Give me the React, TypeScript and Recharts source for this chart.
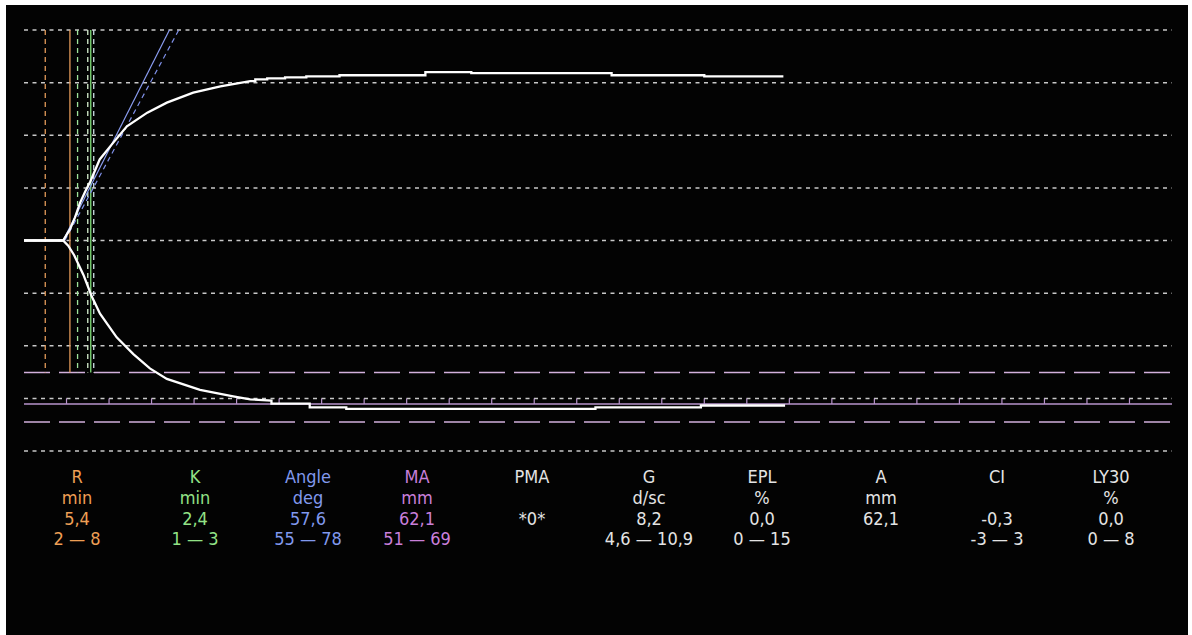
import React from 'react';
import { LineChart, Line, XAxis, YAxis, ReferenceLine } from 'recharts';

// ---- data (time in minutes, amplitude in mm from centre line) ----
const gridLevels = [40, 30, 20, 10, 0, -10, -20, -30, -40];

const upperCurve: [number, number][] = [
  [0, 0], [4.6, 0], [5.4, 2.1], [6.0, 4.4], [6.6, 7.2], [7.2, 9.3], [7.8, 11.2], [8.9, 15.4],
  [10.5, 18.6], [12.1, 21.7], [14.5, 24.3], [16.8, 26.2], [19.9, 28.1], [23.1, 29.3], [26.6, 30.3],
  [27.2, 30.3], [27.2, 30.6], [28.6, 30.6], [28.6, 30.8], [30.7, 30.8], [30.7, 31.0], [33.2, 31.0],
  [33.2, 31.2], [37.1, 31.2], [37.1, 31.4], [47.2, 31.4], [47.2, 32.0], [52.6, 32.0], [52.6, 31.8],
  [69.1, 31.8], [69.1, 31.4], [80.0, 31.4], [80.0, 31.2], [89.3, 31.2],
];

const lowerCurve: [number, number][] = [
  [0, 0], [4.6, 0], [5.2, -1.0], [5.9, -2.8], [6.98, -6.5], [7.96, -10.6], [8.94, -13.9],
  [10.9, -18.4], [12.86, -21.6], [14.8, -24.3], [16.8, -26.3], [20.7, -28.4], [24.6, -29.6],
  [26.6, -30.2], [29.1, -30.4], [29.1, -31.0], [33.6, -31.0], [33.6, -31.7], [37.9, -31.7],
  [37.9, -32.0], [67.2, -32.0], [67.2, -31.7], [79.6, -31.7], [79.6, -31.35], [89.5, -31.35],
];

const maLevel = -31.05;
const maRangeLevels = [-25.1, -34.5];
const timeTicks = [5, 10, 15, 20, 25, 30, 35, 40, 45, 50, 55, 60, 65, 70, 75, 80, 85, 90, 95, 100, 105, 110, 115, 120, 125, 130];
const tickTop = -30;

const markerTimes = [2.5, 5.4, 6.3, 7.5, 7.85, 8.2];
const markerTop = 40;
const markerBottom = -25.1;

const angleLineSolid: [number, number][] = [[4.6, 0], [17.1, 40]];
const angleLineDashed: [number, number][] = [[4.8, 0], [18.2, 40]];

const paramNames = ['R', 'K', 'Angle', 'MA', 'PMA', 'G', 'EPL', 'A', 'CI', 'LY30'];
const paramUnits = ['min', 'min', 'deg', 'mm', '', 'd/sc', '%', 'mm', '', '%'];
const paramValues = ['5,4', '2,4', '57,6', '62,1', '*0*', '8,2', '0,0', '62,1', '-0,3', '0,0'];
const paramRanges = ['2 — 8', '1 — 3', '55 — 78', '51 — 69', '', '4,6 — 10,9', '0 — 15', '', '-3 — 3', '0 — 8'];

// ---- styles / layout ----
const markerStyles = [
  { stroke: '#e39a5a', dash: '5 4' },
  { stroke: '#e39a5a', dash: undefined },
  { stroke: '#9ee49a', dash: '5 4' },
  { stroke: '#d8f0d0', dash: '5 4' },
  { stroke: '#7fdc78', dash: undefined },
  { stroke: '#d0e0e8', dash: '5 4' },
];
const paramColors = ['#ee9f55', '#92e286', '#8199ee', '#c97fda', '#e4e4e4', '#e4e4e4', '#e4e4e4', '#e4e4e4', '#e4e4e4', '#e4e4e4'];
const colCenters = [77, 195, 308, 417, 532, 649, 762, 881, 997, 1111];
const rowCenters = [477, 498, 519, 539];

const toPts = (arr: [number, number][]) => arr.map(([t, a]) => ({ t, a }));

export default function App() {
  const rows = [paramNames, paramUnits, paramValues, paramRanges];
  return (
    <div style={{ position: 'absolute', left: 0, top: 0, width: 1192, height: 635, background: '#ffffff', overflow: 'hidden' }}>
      <div style={{ position: 'absolute', left: 6, top: 5, width: 1182, height: 630, background: '#030303' }}>
        <LineChart width={1182} height={460} margin={{ top: 25, right: 16, bottom: 14, left: 18 }}>
          <XAxis type="number" dataKey="t" domain={[0, 135]} hide allowDataOverflow />
          <YAxis type="number" dataKey="a" domain={[-40, 40]} hide allowDataOverflow />
          {gridLevels.map((v) => (
            <ReferenceLine key={'g' + v} y={v} stroke="#c8c8c8" strokeWidth={1.5} strokeDasharray="4 4.5" />
          ))}
          {maRangeLevels.map((v) => (
            <ReferenceLine key={'m' + v} y={v} stroke="#d2b0dc" strokeWidth={1.5} strokeDasharray="26 9" />
          ))}
          <ReferenceLine y={maLevel} stroke="#b894cc" strokeWidth={1.5} />
          {timeTicks.map((t) => (
            <ReferenceLine key={'tk' + t} segment={[{ x: t, y: maLevel }, { x: t, y: tickTop }]} stroke="#b894cc" strokeWidth={1.2} />
          ))}
          {markerTimes.map((t, i) => (
            <ReferenceLine
              key={'v' + t}
              segment={[{ x: t, y: markerTop }, { x: t, y: markerBottom }]}
              stroke={markerStyles[i].stroke}
              strokeWidth={1.3}
              strokeDasharray={markerStyles[i].dash}
            />
          ))}
          <ReferenceLine
            segment={[{ x: angleLineSolid[0][0], y: angleLineSolid[0][1] }, { x: angleLineSolid[1][0], y: angleLineSolid[1][1] }]}
            stroke="#8a9cf0"
            strokeWidth={1.2}
          />
          <ReferenceLine
            segment={[{ x: angleLineDashed[0][0], y: angleLineDashed[0][1] }, { x: angleLineDashed[1][0], y: angleLineDashed[1][1] }]}
            stroke="#7f90e8"
            strokeWidth={1.2}
            strokeDasharray="5 4"
          />
          <Line data={toPts(upperCurve)} dataKey="a" type="linear" stroke="#ffffff" strokeWidth={2.3} dot={false} isAnimationActive={false} />
          <Line data={toPts(lowerCurve)} dataKey="a" type="linear" stroke="#ffffff" strokeWidth={2.3} dot={false} isAnimationActive={false} />
        </LineChart>
      </div>
      {rows.map((row, r) =>
        row.map((txt, c) =>
          txt ? (
            <div
              key={r + '-' + c}
              style={{
                position: 'absolute',
                left: colCenters[c] - 70,
                width: 140,
                top: rowCenters[r] - 11,
                height: 22,
                lineHeight: '22px',
                textAlign: 'center',
                color: paramColors[c],
                fontFamily: '"DejaVu Sans Condensed", "Liberation Sans", sans-serif',
                fontSize: 18,
                whiteSpace: 'nowrap',
              }}
            >
              {txt}
            </div>
          ) : null
        )
      )}
    </div>
  );
}
